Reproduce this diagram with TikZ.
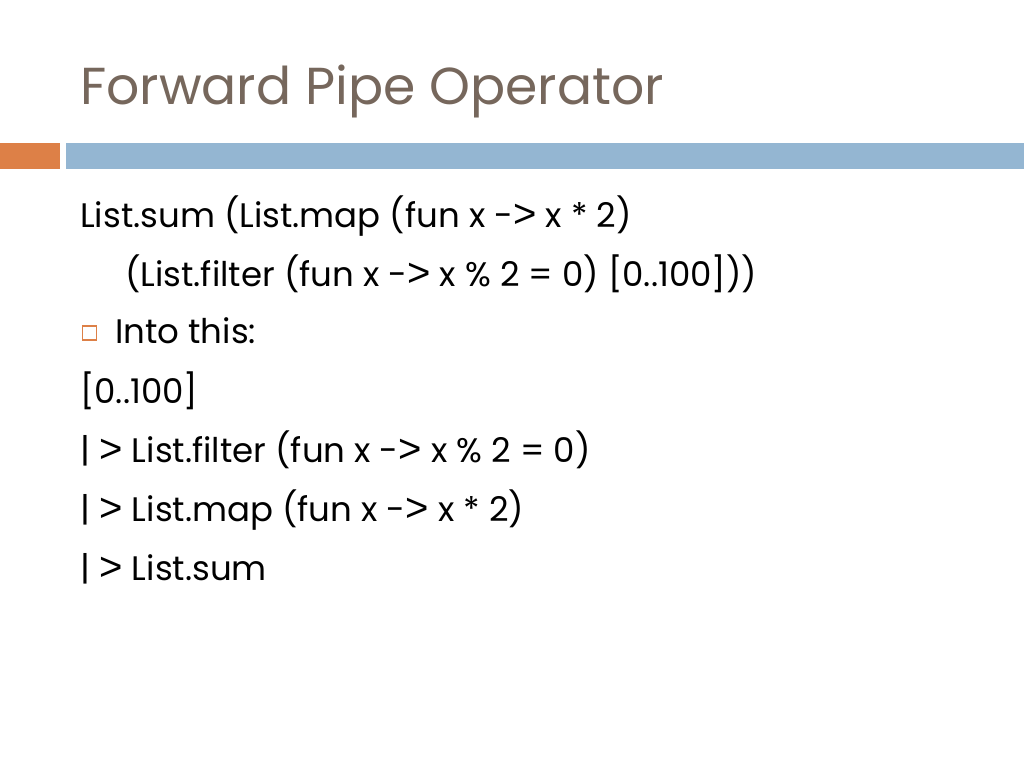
\documentclass[tikz,border=0pt]{standalone}
\usepackage{fontspec}
\setmainfont{Poppins}
\newfontfamily\symfont{Liberation Sans}
\usetikzlibrary{positioning}
\definecolor{titlebrown}{RGB}{118,103,92}
\definecolor{barorange}{RGB}{221,128,71}
\definecolor{barblue}{RGB}{148,182,210}
\newcommand{\pgt}{{\symfont\fontsize{40}{42}\selectfont >}}
\begin{document}
\begin{tikzpicture}[
              x=1pt, y=-1pt,
              title/.style={anchor=base west,inner sep=0pt,text=titlebrown,font=\fontsize{52}{58}\selectfont},
              body/.style={anchor=base west,inner sep=0pt,text=black,font=\fontsize{34}{40}\selectfont},
              bullet/.style={draw=barorange,line width=1.6pt,minimum size=14pt,inner sep=0pt}
            ]
            \useasboundingbox[fill=white] (0,0) rectangle (1024,768);
            % Title
            \node[title] (title) at (80,104) {Forward Pipe Operator};

            % Bars
            \fill[barorange] (0,143) rectangle (60,169);
            \fill[barblue] (66,143) rectangle (1024,169);

            % Nested calls
            \node[body] (nested1) at (80,227) {List.sum (List.map (fun x -\pgt{} x * 2)};
            \node[body] (nested2) at (125,286) {(List.filter (fun x -\pgt{} x \% 2 = 0) [0..100]))};

            % Bullet
            \node[bullet] (box) at (89.5,333) {};
            \node[body] (into) at (115,343) {Into this:};

            % Pipeline
            \node[body] (range) at (80,403) {[0..100]};
            \node[body] (pipe1) at (80,462) {|\;\pgt\ List.filter (fun x -\pgt{} x \% 2 = 0)};
            \node[body] (pipe2) at (80,521) {|\;\pgt\ List.map (fun x -\pgt{} x * 2)};
            \node[body] (pipe3) at (80,580) {|\;\pgt\ List.sum};
            \end{tikzpicture}
\end{document}
